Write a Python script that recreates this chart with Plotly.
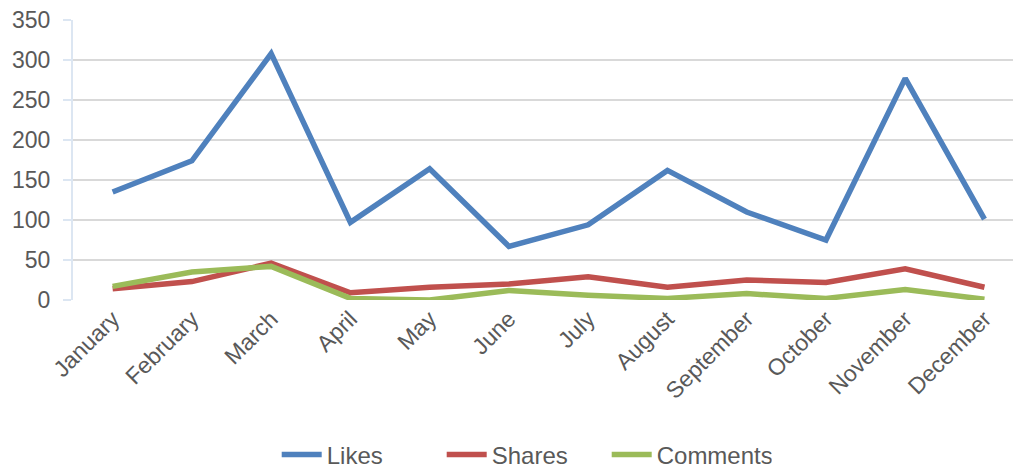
import plotly.graph_objects as go

months = ["January", "February", "March", "April", "May", "June", "July",
          "August", "September", "October", "November", "December"]
likes = [135, 174, 308, 97, 164, 67, 94, 162, 110, 75, 277, 101]
shares = [14, 23, 46, 9, 16, 20, 29, 16, 25, 22, 39, 16]
comments = [17, 35, 42, 2, 0, 12, 6, 2, 8, 2, 13, 1]

series = [("Likes", likes, "#4F81BD"), ("Shares", shares, "#C0504D"), ("Comments", comments, "#9BBB59")]

fig = go.Figure()
for name, vals, color in series:
    fig.add_trace(go.Scatter(x=list(range(len(months))), y=vals, name=name, mode="lines",
                             line=dict(color=color, width=5.5)))

fig.update_layout(
    width=1013, height=468,
    margin=dict(l=73, r=0, t=20, b=168),
    paper_bgcolor="white", plot_bgcolor="white",
    font=dict(family="Liberation Sans, Arial, sans-serif", color="#595959", size=22),
    showlegend=True,
    legend=dict(orientation="h", x=0.48, xanchor="center",
                yref="container", y=(468 - 455) / 468, yanchor="middle",
                font=dict(size=24, color="#595959"), tracegroupgap=0,
                entrywidth=110, itemwidth=40),
)
fig.update_xaxes(
    tickmode="array", tickvals=list(range(len(months))), ticktext=months,
    tickangle=-45, range=[-0.5, 11.36], showgrid=False, zeroline=False,
    showline=False, ticks="", tickfont=dict(size=23, color="#595959"),
    automargin=False,
)
fig.update_yaxes(
    range=[0, 350.01], tickmode="linear", tick0=0, dtick=50, showgrid=True,
    gridcolor="#D9D9D9", gridwidth=2,
    zeroline=False, showline=True, linecolor="#DCE6F2", linewidth=2,
    ticks="outside", ticklen=8, tickcolor="#DCE6F2", tickwidth=2,
    ticklabelstandoff=8,
    tickfont=dict(size=23, color="#595959"), automargin=False,
)
fig.write_html("out.html", config={"displayModeBar": False},
               post_script="document.body.style.margin='0';")
